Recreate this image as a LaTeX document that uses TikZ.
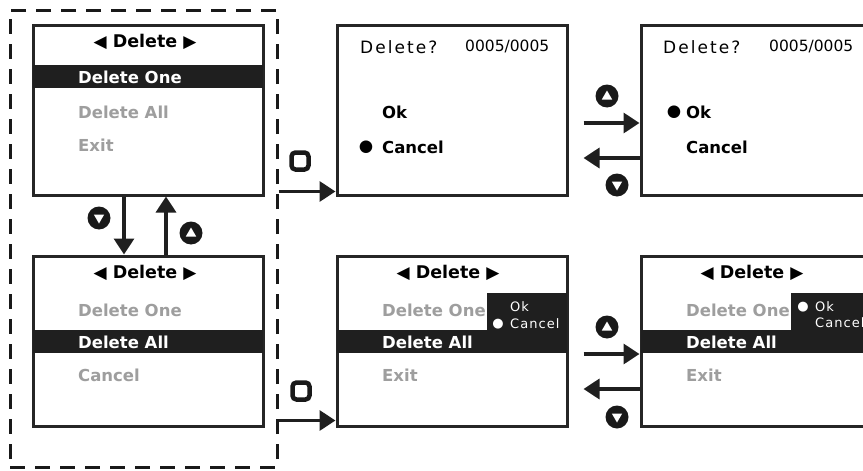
\documentclass[tikz,border=0pt]{standalone}
\usepackage{fontspec}
\setmainfont{DejaVu Sans}
\usetikzlibrary{arrows.meta,positioning}

\newcommand\lft{{\fontsize{17}{18}\selectfont◀}}
\newcommand\rgt{{\fontsize{17}{18}\selectfont▶}}

\tikzset{
  keyup/.pic={
    \fill[black!90] (0,0) circle (11.5);
    \fill[white] (0,-5.5) -- (5.2,3.5) -- (-5.2,3.5) -- cycle;
  },
  keydown/.pic={
    \fill[black!90] (0,0) circle (11.5);
    \fill[white] (0,5.5) -- (5.2,-3.5) -- (-5.2,-3.5) -- cycle;
  },
  keyok/.pic={
    \draw[black!90, line width=4.5pt, rounded corners=4pt] (-8.5,-8.5) rectangle (8.5,8.5);
  }
}

\begin{document}
\begin{tikzpicture}[x=1pt, y=-1pt,
  screen/.style={draw=black!85, line width=3pt, fill=white, minimum width=230pt, minimum height=170pt, inner sep=0pt},
  head/.style={font=\fontsize{17.5}{18}\selectfont\bfseries, inner sep=0pt},
  item/.style={font=\fontsize{16.5}{18}\selectfont\bfseries, anchor=west, inner sep=0pt},
  dim/.style={item, text=black!38},
  sel/.style={item, text=white},
  bar/.style={fill=black!88},
  title/.style={font=\fontsize{17}{18}\selectfont\addfontfeature{LetterSpace=12}, anchor=west, inner sep=0pt},
  count/.style={font=\fontsize{15.5}{16}\selectfont, anchor=west, inner sep=0pt},
  pop/.style={font=\fontsize{13}{14}\selectfont\addfontfeature{LetterSpace=8}, anchor=west, inner sep=0pt, text=white},
  arr/.style={line width=3.4pt, draw=black!88, -{Triangle[length=16pt,width=20pt]}}]
\useasboundingbox (0,0) rectangle (863,471);
\clip (0,0) rectangle (863,471);

% Menu group (dashed)
\node[draw=black!90, line width=3pt, dash pattern=on 15pt off 10pt, minimum width=267pt, minimum height=457pt, inner sep=0pt] (grp) at (143.5,238.5) {};

% Screen 1: Delete One selected
\node[screen] (s1) at (148,110) {};
\node[head] (h1) at (145,42) {\lft\ Delete\ \rgt};
\fill[bar] (33,65) rectangle (263,88);
\node[sel] (s1a) at (78,77) {Delete One};
\node[dim] (s1b) at (78,112) {Delete All};
\node[dim] (s1c) at (78,145) {Exit};

% Screen 4: Delete All selected
\node[screen] (s4) at (148,341) {};
\node[head] (h4) at (145,273) {\lft\ Delete\ \rgt};
\node[dim] (s4a) at (78,310) {Delete One};
\fill[bar] (33,330) rectangle (263,353);
\node[sel] (s4b) at (78,342) {Delete All};
\node[dim] (s4c) at (78,375) {Cancel};

% Screen 2: Delete? Cancel
\node[screen] (s2) at (452,110) {};
\node[title] (t2) at (360,47) {Delete?};
\node[count] (c2) at (465,46) {0005/0005};
\node[item] (s2a) at (382,112) {Ok};
\node[item] (s2b) at (382,147) {Cancel};
\node[item, anchor=center] (d2) at (366,147) {●};

% Screen 3: Delete? Ok
\node[screen] (s3) at (756,110) {};
\node[title] (t3) at (663,47) {Delete?};
\node[count] (c3) at (769,46) {0005/0005};
\node[item, anchor=center] (d3) at (674,112) {●};
\node[item] (s3a) at (686,112) {Ok};
\node[item] (s3b) at (686,147) {Cancel};

% Screen 5: Delete All, popup Cancel
\node[screen] (s5) at (452,341) {};
\node[head] (h5) at (448,273) {\lft\ Delete\ \rgt};
\node[dim] (s5a) at (382,310) {Delete One};
\fill[bar] (487,293) rectangle (567,330);
\node[pop] (p5a) at (510,307) {Ok};
\node[pop, anchor=center] (q5) at (498,324) {●};
\node[pop] (p5b) at (510,324) {Cancel};
\fill[bar] (337,330) rectangle (567,353);
\node[sel] (s5b) at (382,342) {Delete All};
\node[dim] (s5c) at (382,375) {Exit};

% Screen 6: Delete All, popup Ok
\node[screen] (s6) at (756,341) {};
\node[head] (h6) at (752,273) {\lft\ Delete\ \rgt};
\node[dim] (s6a) at (686,310) {Delete One};
\fill[bar] (791,293) rectangle (871,330);
\node[pop, anchor=center] (q6) at (803,307) {●};
\node[pop] (p6a) at (815,307) {Ok};
\node[pop] (p6b) at (815,323) {Cancel};
\fill[bar] (641,330) rectangle (871,353);
\node[sel] (s6b) at (686,342) {Delete All};
\node[dim] (s6c) at (686,375) {Exit};

% Transitions
\coordinate (in2) at ([yshift=5pt]s2.south west);
\coordinate (in5) at ([yshift=7pt]s5.south west);
\draw[arr] ([xshift=-24pt]s1.south) -- ([xshift=-24pt]s4.north);
\draw[arr] ([xshift=18pt]s4.north) -- ([xshift=18pt]s1.south);
\draw[arr] (grp.east |- in2) -- (in2);
\draw[arr] (grp.east |- in5) -- (in5);
\draw[arr, shorten <=15pt] ([yshift=-13pt]s2.east) -- ([yshift=-13pt]s3.west);
\draw[arr, shorten >=15pt] ([yshift=-48pt]s3.west) -- ([yshift=-48pt]s2.east);
\draw[arr, shorten <=15pt] ([yshift=-13pt]s5.east) -- ([yshift=-13pt]s6.west);
\draw[arr, shorten >=15pt] ([yshift=-48pt]s6.west) -- ([yshift=-48pt]s5.east);

% Keys
\pic at (99,218) {keydown};
\pic at (191,233) {keyup};
\pic at (300,161) {keyok};
\pic at (301,391) {keyok};
\pic at (607,96) {keyup};
\pic at (617,185) {keydown};
\pic at (607,327) {keyup};
\pic at (617,417) {keydown};
\end{tikzpicture}
\end{document}
